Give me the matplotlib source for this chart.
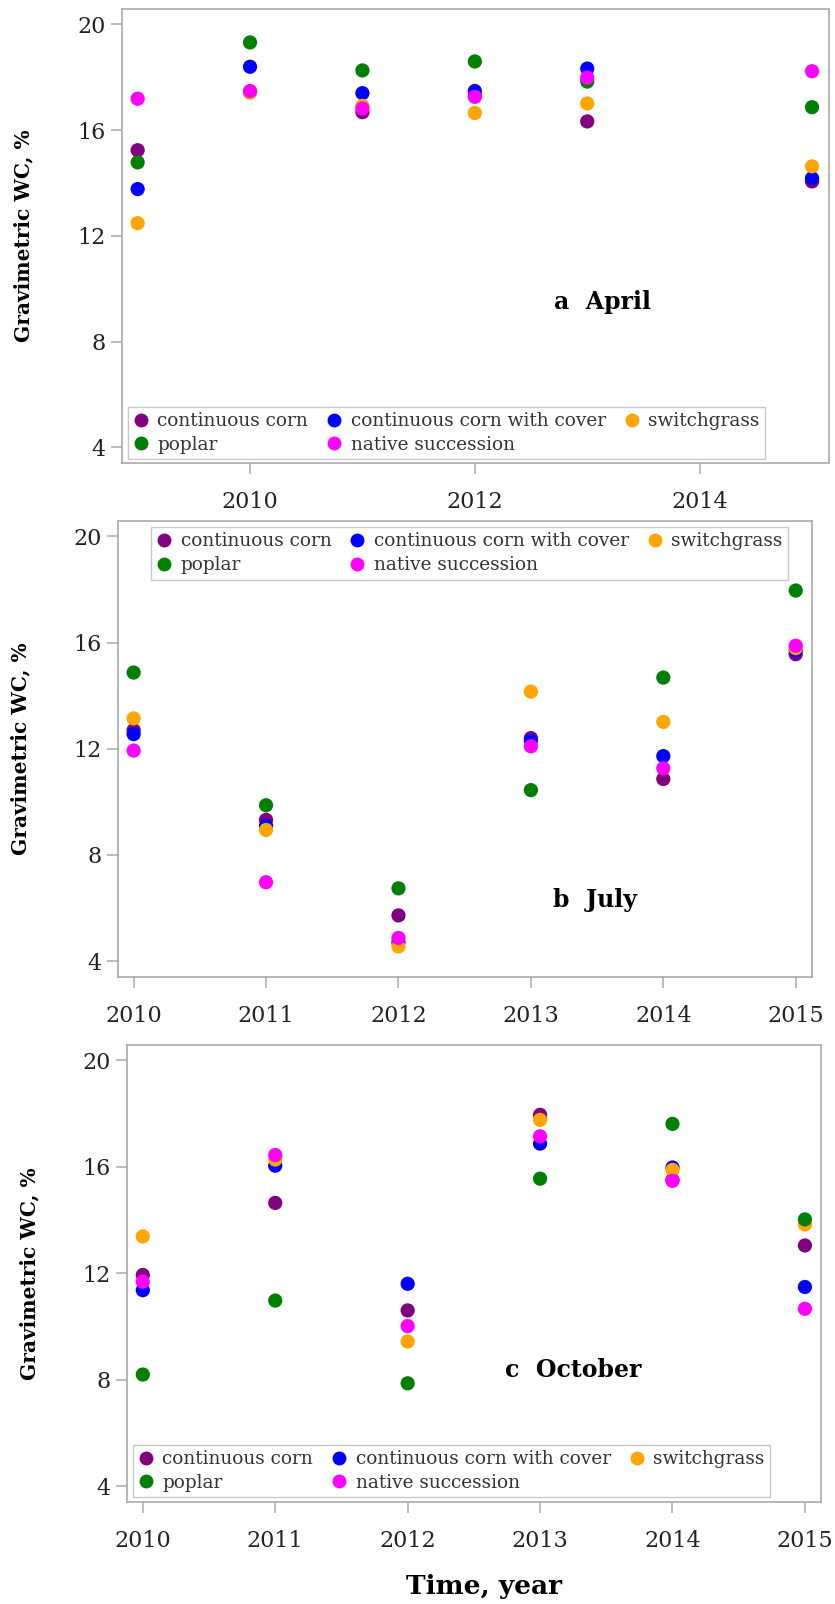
import matplotlib.pyplot as plt
from matplotlib.lines import Line2D

plt.rcParams['font.family'] = ['DejaVu Serif']

# treatments, in drawing order
treatments = ['continuous corn', 'continuous corn with cover', 'switchgrass',
              'poplar', 'native succession']
colors = ['#800080', '#0000FF', '#FFA500', '#008000', '#FF00FF']

# April sampling
years_apr = [2009, 2010, 2011, 2012, 2013, 2015]
apr_cc = [15.24, 17.45, 16.68, 17.30, 16.33, 14.06]
apr_ccc = [13.77, 18.40, 17.40, 17.48, 18.33, 14.18]
apr_sg = [12.48, 17.42, 16.92, 16.65, 17.01, 14.63]
apr_pop = [14.78, 19.32, 18.26, 18.60, 17.84, 16.87]
apr_ns = [17.19, 17.48, 16.82, 17.26, 17.99, 18.23]

# July sampling
years = [2010, 2011, 2012, 2013, 2014, 2015]
jul_cc = [12.70, 9.32, 5.72, 12.40, 10.86, 15.56]
jul_ccc = [12.55, 9.10, 4.70, 12.30, 11.72, 15.70]
jul_sg = [13.14, 8.94, 4.55, 14.15, 13.01, 15.79]
jul_pop = [14.87, 9.87, 6.74, 10.44, 14.68, 17.96]
jul_ns = [11.93, 6.97, 4.87, 12.09, 11.26, 15.88]

# October sampling
oct_cc = [11.93, 14.64, 10.60, 17.95, 15.50, 13.04]
oct_ccc = [11.36, 16.04, 11.60, 16.87, 15.97, 11.48]
oct_sg = [13.38, 16.27, 9.43, 17.76, 15.88, 13.83]
oct_pop = [8.19, 10.97, 7.86, 15.55, 17.61, 14.02]
oct_ns = [11.68, 16.44, 10.01, 17.14, 15.47, 10.66]

panels = [
    dict(x=years_apr, series=[apr_cc, apr_ccc, apr_sg, apr_pop, apr_ns],
         xlim=(2008.86, 2015.15), xticks=[2010, 2012, 2014],
         rect=[0.146, 0.7113, 0.8467, 0.283], label='a  April', lab_xy=(0.611, 0.355),
         leg_loc='lower left', leg_anchor=(0.0085, 0.008), ylab_x=-0.139),
    dict(x=years, series=[jul_cc, jul_ccc, jul_sg, jul_pop, jul_ns],
         xlim=(2009.88, 2015.12), xticks=years,
         rect=[0.141, 0.3909, 0.831, 0.2843], label='b  July', lab_xy=(0.628, 0.169),
         leg_loc='upper left', leg_anchor=(0.048, 0.987), ylab_x=-0.141),
    dict(x=years, series=[oct_cc, oct_ccc, oct_sg, oct_pop, oct_ns],
         xlim=(2009.88, 2015.12), xticks=years,
         rect=[0.152, 0.0636, 0.831, 0.285], label='c  October', lab_xy=(0.545, 0.289),
         leg_loc='lower left', leg_anchor=(0.0086, 0.010), ylab_x=-0.141),
]

fig = plt.figure(figsize=(8.35, 16.04), dpi=100)

for p in panels:
    ax = fig.add_axes(p['rect'])
    for vals, c in zip(p['series'], colors):
        ax.scatter(p['x'], vals, s=105, color=c, edgecolors='none', zorder=3)
    ax.set_xlim(*p['xlim'])
    ax.set_ylim(3.4, 20.58)
    ax.set_xticks(p['xticks'])
    ax.set_xticklabels([str(t) for t in p['xticks']])
    ax.set_yticks([4, 8, 12, 16, 20])
    for s in ax.spines.values():
        s.set_color('#AAAAAA')
        s.set_linewidth(1.2)
    ax.tick_params(axis='both', colors='#AAAAAA', labelcolor='#222222',
                   labelsize=16, length=8, width=1.1)
    ax.tick_params(axis='x', pad=12)
    ax.set_ylabel('Gravimetric WC, %', fontsize=14.5, fontweight='bold', va='center')
    ax.yaxis.set_label_coords(p['ylab_x'], 0.5)
    ax.text(p['lab_xy'][0], p['lab_xy'][1], p['label'], transform=ax.transAxes,
            fontsize=17, fontweight='bold', va='center', ha='left')

    # legend laid out as two rows of three columns
    handles = [Line2D([], [], marker='o', linestyle='none', markersize=10,
                      markerfacecolor=c, markeredgecolor='none') for c in colors]
    order = [0, 3, 1, 4, 2]
    leg = ax.legend([handles[i] for i in order], [treatments[i] for i in order],
                    ncol=3, loc=p['leg_loc'], bbox_to_anchor=p['leg_anchor'],
                    borderaxespad=0, fontsize=13.3, handlelength=0.8,
                    handletextpad=0.5, columnspacing=1.0, labelspacing=0.3,
                    borderpad=0.3, fancybox=False, framealpha=1)
    leg.get_frame().set_edgecolor('#C8C8C8')
    for t in leg.get_texts():
        t.set_color('#333333')

fig.text(0.58, 0.003, 'Time, year', fontsize=19, fontweight='bold',
         ha='center', va='bottom')

fig.savefig('out.png', dpi=100)
